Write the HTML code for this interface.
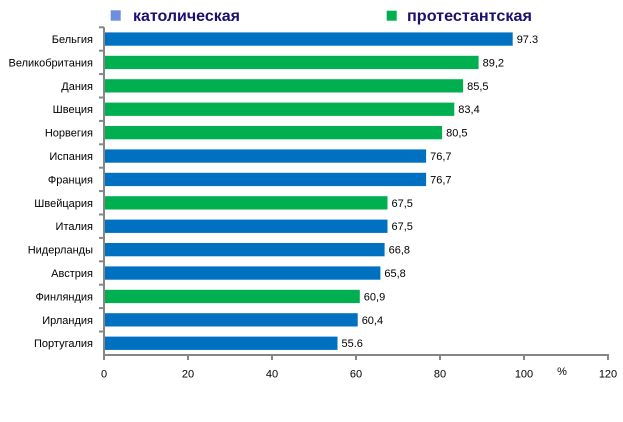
<!DOCTYPE html>
<html><head><meta charset="utf-8"><style>
html,body{margin:0;padding:0;background:#fff;}
svg{display:block;}
text{font-family:"Liberation Sans",Arial,sans-serif;}
</style></head><body>
<svg width="623" height="422" viewBox="0 0 623 422" xmlns="http://www.w3.org/2000/svg">
<rect width="623" height="422" fill="#fff"/>
<!-- legend -->
<rect x="110.7" y="10.3" width="10" height="10.4" fill="#6d8fe0"/>
<text x="133" y="21" font-size="15.5" font-weight="bold" fill="#1a1070" textLength="107" lengthAdjust="spacingAndGlyphs">католическая</text>
<rect x="386.7" y="10.7" width="10" height="10" fill="#00b050"/>
<text x="407" y="21" font-size="15.5" font-weight="bold" fill="#1a1070" textLength="125" lengthAdjust="spacingAndGlyphs">протестантская</text>

<!-- bars -->
<g font-size="11" fill="#000">
<rect x="104" y="32.4" width="408.7" height="13.3" fill="#0070c0"/>
<rect x="104" y="55.8" width="374.6" height="13.3" fill="#00b050"/>
<rect x="104" y="79.2" width="359.1" height="13.3" fill="#00b050"/>
<rect x="104" y="102.6" width="350.3" height="13.3" fill="#00b050"/>
<rect x="104" y="126.0" width="338.1" height="13.3" fill="#00b050"/>
<rect x="104" y="149.4" width="322.1" height="13.3" fill="#0070c0"/>
<rect x="104" y="172.8" width="322.1" height="13.3" fill="#0070c0"/>
<rect x="104" y="196.2" width="283.5" height="13.3" fill="#00b050"/>
<rect x="104" y="219.6" width="283.5" height="13.3" fill="#0070c0"/>
<rect x="104" y="243.0" width="280.6" height="13.3" fill="#0070c0"/>
<rect x="104" y="266.4" width="276.4" height="13.3" fill="#0070c0"/>
<rect x="104" y="289.8" width="255.8" height="13.3" fill="#00b050"/>
<rect x="104" y="313.2" width="253.7" height="13.3" fill="#0070c0"/>
<rect x="104" y="336.6" width="233.5" height="13.3" fill="#0070c0"/>
</g>

<!-- value labels -->
<g font-size="11" fill="#000">
<text x="516.7" y="43">97.3</text>
<text x="482.6" y="66.4">89,2</text>
<text x="467.1" y="89.8">85,5</text>
<text x="458.3" y="113.2">83,4</text>
<text x="446.1" y="136.6">80,5</text>
<text x="430.1" y="160">76,7</text>
<text x="430.1" y="183.4">76,7</text>
<text x="391.5" y="206.8">67,5</text>
<text x="391.5" y="230.2">67,5</text>
<text x="388.6" y="253.6">66,8</text>
<text x="384.4" y="277">65,8</text>
<text x="363.8" y="300.4">60,9</text>
<text x="361.7" y="323.8">60,4</text>
<text x="341.5" y="347.2">55.6</text>
</g>

<!-- category labels -->
<g font-size="11" fill="#000" text-anchor="end">
<text x="93" y="43">Бельгия</text>
<text x="93" y="66.4">Великобритания</text>
<text x="93" y="89.8">Дания</text>
<text x="93" y="113.2">Швеция</text>
<text x="93" y="136.6">Норвегия</text>
<text x="93" y="160">Испания</text>
<text x="93" y="183.4">Франция</text>
<text x="93" y="206.8">Швейцария</text>
<text x="93" y="230.2">Италия</text>
<text x="93" y="253.6">Нидерланды</text>
<text x="93" y="277">Австрия</text>
<text x="93" y="300.4">Финляндия</text>
<text x="93" y="323.8">Ирландия</text>
<text x="93" y="347.2">Португалия</text>
</g>

<!-- axes -->
<g stroke="#868686" stroke-width="2" fill="none">
<line x1="104" y1="27.3" x2="104" y2="356"/>
<line x1="103" y1="355" x2="609" y2="355"/>
<line x1="99" y1="27.3" x2="104" y2="27.3"/>
<line x1="99" y1="50.7" x2="104" y2="50.7"/>
<line x1="99" y1="74.1" x2="104" y2="74.1"/>
<line x1="99" y1="97.5" x2="104" y2="97.5"/>
<line x1="99" y1="120.9" x2="104" y2="120.9"/>
<line x1="99" y1="144.3" x2="104" y2="144.3"/>
<line x1="99" y1="167.7" x2="104" y2="167.7"/>
<line x1="99" y1="191.1" x2="104" y2="191.1"/>
<line x1="99" y1="214.5" x2="104" y2="214.5"/>
<line x1="99" y1="237.9" x2="104" y2="237.9"/>
<line x1="99" y1="261.3" x2="104" y2="261.3"/>
<line x1="99" y1="284.7" x2="104" y2="284.7"/>
<line x1="99" y1="308.1" x2="104" y2="308.1"/>
<line x1="99" y1="331.5" x2="104" y2="331.5"/>
<line x1="104" y1="355" x2="104" y2="360"/>
<line x1="188" y1="355" x2="188" y2="360"/>
<line x1="272" y1="355" x2="272" y2="360"/>
<line x1="356" y1="355" x2="356" y2="360"/>
<line x1="440" y1="355" x2="440" y2="360"/>
<line x1="524" y1="355" x2="524" y2="360"/>
<line x1="608" y1="355" x2="608" y2="360"/>
</g>

<!-- x tick labels -->
<g font-size="11" fill="#000" text-anchor="middle">
<text x="104" y="377.5">0</text>
<text x="188" y="377.5">20</text>
<text x="272" y="377.5">40</text>
<text x="356" y="377.5">60</text>
<text x="440" y="377.5">80</text>
<text x="524" y="377.5">100</text>
<text x="608" y="377.5">120</text>
<text x="562" y="375">%</text>
</g>
</svg>
</body></html>
